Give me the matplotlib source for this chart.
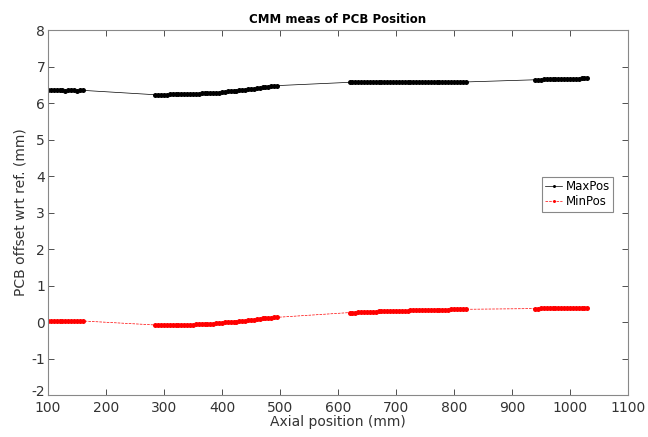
import matplotlib
matplotlib.use("Agg")
import matplotlib.pyplot as plt
from matplotlib.transforms import ScaledTranslation

# axial positions (mm), four measured zones
x_pos = [100, 105, 110, 115, 120, 125, 130, 135, 140, 145, 150, 155, 160,
         285, 290, 295, 300, 305, 310, 315, 320, 325, 330, 335, 340, 345, 350,
         355, 360, 365, 370, 375, 380, 385, 390, 395, 400, 405, 410, 415, 420,
         425, 430, 435, 440, 445, 450, 455, 460, 465, 470, 475, 480, 485, 490, 495,
         620, 625, 630, 635, 640, 645, 650, 655, 660, 665, 670, 675, 680, 685,
         690, 695, 700, 705, 710, 715, 720, 725, 730, 735, 740, 745, 750, 755,
         760, 765, 770, 775, 780, 785, 790, 795, 800, 805, 810, 815, 820,
         940, 945, 950, 955, 960, 965, 970, 975, 980, 985, 990, 995, 1000,
         1005, 1010, 1015, 1020, 1025, 1030]

max_pos = [6.35, 6.35, 6.36, 6.35, 6.35, 6.35, 6.34, 6.35, 6.35, 6.35, 6.34, 6.35, 6.35,
           6.23, 6.23, 6.23, 6.23, 6.23, 6.24, 6.24, 6.24, 6.24, 6.24, 6.25, 6.25, 6.25, 6.25,
           6.26, 6.26, 6.27, 6.27, 6.27, 6.28, 6.28, 6.29, 6.29, 6.30, 6.31, 6.32, 6.32, 6.33,
           6.34, 6.35, 6.36, 6.37, 6.38, 6.39, 6.40, 6.41, 6.42, 6.43, 6.44, 6.45, 6.46, 6.47, 6.48,
           6.57, 6.58, 6.58, 6.57, 6.58, 6.58, 6.59, 6.58, 6.58, 6.57, 6.58, 6.58, 6.59, 6.58,
           6.58, 6.58, 6.59, 6.58, 6.58, 6.58, 6.59, 6.58, 6.58, 6.58, 6.59, 6.58, 6.58, 6.58,
           6.58, 6.59, 6.58, 6.58, 6.58, 6.59, 6.58, 6.58, 6.58, 6.59, 6.58, 6.58, 6.58,
           6.64, 6.64, 6.64, 6.65, 6.65, 6.65, 6.65, 6.66, 6.66, 6.66, 6.66, 6.66, 6.67,
           6.67, 6.67, 6.67, 6.68, 6.68, 6.68]

min_pos = [0.03, 0.03, 0.03, 0.04, 0.03, 0.03, 0.03, 0.03, 0.04, 0.03, 0.03, 0.03, 0.03,
           -0.08, -0.08, -0.08, -0.08, -0.08, -0.08, -0.07, -0.07, -0.07, -0.07, -0.07, -0.07, -0.07, -0.07,
           -0.06, -0.06, -0.06, -0.05, -0.05, -0.04, -0.04, -0.03, -0.03, -0.02, -0.01, -0.01, 0.00, 0.01,
           0.01, 0.02, 0.03, 0.04, 0.05, 0.06, 0.07, 0.08, 0.09, 0.10, 0.10, 0.11, 0.12, 0.13, 0.13,
           0.26, 0.26, 0.26, 0.27, 0.27, 0.27, 0.28, 0.28, 0.28, 0.28, 0.29, 0.29, 0.29, 0.30,
           0.30, 0.30, 0.30, 0.31, 0.31, 0.31, 0.31, 0.32, 0.32, 0.32, 0.32, 0.33, 0.33, 0.33,
           0.33, 0.33, 0.34, 0.34, 0.34, 0.34, 0.34, 0.35, 0.35, 0.35, 0.35, 0.35, 0.35,
           0.37, 0.37, 0.38, 0.38, 0.38, 0.38, 0.38, 0.38, 0.38, 0.38, 0.38, 0.38, 0.38,
           0.38, 0.38, 0.38, 0.38, 0.38, 0.38]

plt.rcParams["font.family"] = "DejaVu Sans"
plt.rcParams["axes.unicode_minus"] = False
fig = plt.figure(figsize=(6.48, 4.37), dpi=100)
ax = fig.add_axes([0.074, 0.096, 0.895, 0.835])

ax.plot(x_pos, max_pos, color="black", lw=0.5, marker="o", ms=3.6, mew=0, label="MaxPos")
ax.plot(x_pos, min_pos, color="red", lw=0.5, ls="--", marker="o", ms=3.6, mew=0, label="MinPos")

ax.set_xlim(100, 1100)
ax.set_ylim(-2, 8)
ax.set_xticks(range(100, 1101, 100))
ax.set_yticks(range(-2, 9))
ax.tick_params(direction="in", top=True, right=True, labelsize=10, colors="#333333",
               length=4, width=0.6, pad=2)
ax.tick_params(axis="x", pad=4.5)
for s in ax.spines.values():
    s.set_color("#888888")
    s.set_linewidth(0.8)

# nudge the bottom y label up a little so it clears the "100"
lab = ax.get_yticklabels()[0]
lab.set_transform(lab.get_transform() + ScaledTranslation(0, 3 / 72, fig.dpi_scale_trans))

ax.set_title("CMM meas of PCB Position", fontsize=8.5, fontweight="bold", pad=5)
ax.set_xlabel("Axial position (mm)", fontsize=10, color="#333333", labelpad=0)
ax.set_ylabel("PCB offset wrt ref. (mm)", fontsize=10, color="#333333", labelpad=3)

leg = ax.legend(loc="upper right", bbox_to_anchor=(0.985, 0.615), fontsize=8.5,
                fancybox=False, framealpha=1, edgecolor="#888888", handlelength=1.4,
                handletextpad=0.3, borderpad=0.3, labelspacing=0.2, markerscale=0.6)
leg.get_frame().set_linewidth(0.8)

fig.savefig("out.png", dpi=100)
